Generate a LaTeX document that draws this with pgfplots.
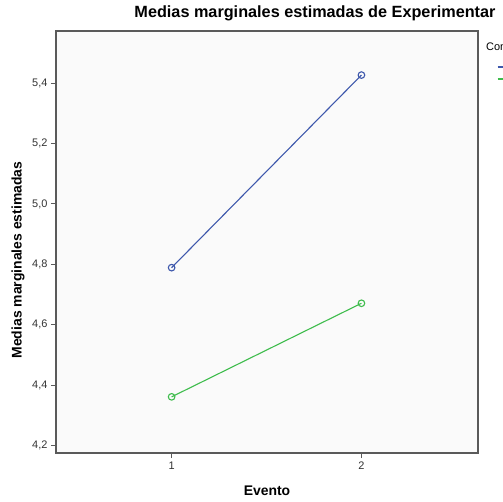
\documentclass[border=0pt]{standalone}
\usepackage{fontspec}
\setmainfont{Liberation Sans}
\usepackage{pgfplots}
\pgfplotsset{compat=1.18}
\definecolor{spssblue}{HTML}{3E58AC}
\definecolor{spssgreen}{HTML}{3EBC4C}
\definecolor{axgray}{HTML}{5A5A5A}
\definecolor{plotbg}{HTML}{FAFAFA}

\begin{document}
\begin{tikzpicture}
    \begin{axis}[
        name=ax,
        scale only axis,
        width=422bp, height=422bp,
        xmin=0.391, xmax=2.614,
        ymin=4.175, ymax=5.573,
        xtick={1,2},
        ytick={4.2,4.4,4.6,4.8,5.0,5.2,5.4},
        tick pos=left,
        tick align=outside,
        major tick length=5bp,
        axis line style={axgray, line width=1.1bp},
        tick style={axgray, line width=1bp},
        axis background/.style={fill=plotbg},
        ticklabel style={font=\fontsize{11}{13}\selectfont, text=black!80},
        /pgf/number format/assume math mode=true,
        yticklabel style={/pgf/number format/.cd, fixed, fixed zerofill, precision=1, use comma},
        legend style={at={(rel axis cs:1,1)}, anchor=north west, xshift=15.5bp, yshift=-27bp,
            draw=none, fill=none, font=\fontsize{11}{13}\selectfont, row sep=-1bp},
        legend cell align=left,
    ]
    \addlegendimage{draw=spssblue, line width=1.8bp}
    \addlegendentry{Control}
    \addlegendimage{draw=spssgreen, line width=1.8bp}
    \addlegendentry{Experimental}
    \addplot[color=spssblue, line width=1.1bp, mark=o, mark size=3.3bp, forget plot]
        coordinates {(1,4.789)(2,5.427)};
    \addplot[color=spssgreen, line width=1.1bp, mark=o, mark size=3.3bp, forget plot]
        coordinates {(1,4.361)(2,4.671)};
    \end{axis}
    \node[font=\bfseries\fontsize{16.3}{18}\selectfont] at ([shift={(259bp,18bp)}]ax.north west) {Medias marginales estimadas de Experimentar};
    \node[font=\bfseries\fontsize{14}{16}\selectfont, rotate=90] at ([shift={(-38bp,193bp)}]ax.south west) {Medias marginales estimadas};
    \node[font=\bfseries\fontsize{14}{16}\selectfont] at ([shift={(211bp,-38bp)}]ax.south west) {Evento};
    \node[font=\fontsize{11}{13}\selectfont, anchor=west, inner sep=0pt] at ([shift={(430bp,-16bp)}]ax.north west) {Condición};
    \pgfresetboundingbox
    \path[use as bounding box] ([shift={(-56bp,-49bp)}]ax.south west) rectangle ([shift={(25bp,31bp)}]ax.north east);
\end{tikzpicture}
\end{document}
